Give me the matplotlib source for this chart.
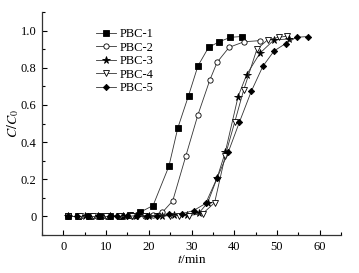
import matplotlib
matplotlib.use('Agg')
import matplotlib.pyplot as plt
from matplotlib.ticker import MultipleLocator

# breakthrough curves, t in min, C/C0
t_pbc1 = [1, 3.5, 6, 8.5, 11, 13.5, 15.5, 18, 21, 24.7, 26.8, 29.3, 31.5, 34, 36.5, 39.1, 41.7]
c_pbc1 = [0, 0, 0, 0, 0, 0.005, 0.01, 0.023, 0.059, 0.27, 0.477, 0.65, 0.81, 0.91, 0.94, 0.964, 0.968]

t_pbc2 = [1, 4, 7, 10, 13, 16, 19, 21, 23.2, 25.6, 28.7, 31.5, 34.3, 36, 38.8, 42.3, 46]
c_pbc2 = [0, 0, 0, 0, 0, 0, 0.005, 0.01, 0.023, 0.084, 0.328, 0.547, 0.735, 0.83, 0.91, 0.94, 0.946]

t_pbc3 = [1, 5, 8, 11, 14, 17, 20, 23, 26, 29, 31.8, 33.8, 36, 37.9, 40.9, 42.9, 46, 49.3, 52.8]
c_pbc3 = [0, 0, 0, 0, 0, 0, 0, 0.005, 0.01, 0.01, 0.02, 0.075, 0.208, 0.346, 0.645, 0.763, 0.878, 0.95, 0.955]

t_pbc4 = [1, 4, 7, 10, 13, 16, 19, 22, 25, 27, 29.3, 32.6, 35.4, 37.9, 40.1, 42.2, 45.3, 47.8, 50.4, 52.4]
c_pbc4 = [0, 0, 0, 0, 0, 0, 0, 0, 0.005, 0.005, 0.005, 0.015, 0.074, 0.328, 0.507, 0.68, 0.90, 0.95, 0.964, 0.97]

t_pbc5 = [1.2, 3.2, 5.7, 8.4, 11, 12.6, 14.8, 17.3, 19.6, 21.9, 24.7, 27.8, 30.5, 33.3, 36, 38.6, 41.2, 44, 46.7, 49.3, 52, 54.6, 57.2]
c_pbc5 = [0, 0, 0, 0, 0, 0, 0, 0.005, 0.005, 0.005, 0.015, 0.015, 0.032, 0.07, 0.208, 0.346, 0.507, 0.674, 0.808, 0.89, 0.93, 0.964, 0.968]

series = [
    ('PBC-1', t_pbc1, c_pbc1, 's', 'black'),
    ('PBC-2', t_pbc2, c_pbc2, 'o', 'white'),
    ('PBC-3', t_pbc3, c_pbc3, '*', 'black'),
    ('PBC-4', t_pbc4, c_pbc4, 'v', 'white'),
    ('PBC-5', t_pbc5, c_pbc5, 'D', 'black'),
]

x_ticks = [0, 10, 20, 30, 40, 50, 60]
y_ticks = [0, 0.2, 0.4, 0.6, 0.8, 1.0]
y_labels = ['0', '0.2', '0.4', '0.6', '0.8', '1.0']

plt.rcParams['font.family'] = ['Liberation Serif', 'DejaVu Serif']
plt.rcParams['mathtext.fontset'] = 'stix'
plt.rcParams['font.size'] = 9

fig = plt.figure(figsize=(3.59, 2.73), dpi=100)
ax = fig.add_axes([0.117, 0.139, 0.833, 0.817])

for name, t, c, mk, fc in series:
    ms = 5.5 if mk == '*' else (3.2 if mk == 'D' else 3.8)
    ax.plot(t, c, marker=mk, markersize=ms, markerfacecolor=fc,
            markeredgecolor='black', markeredgewidth=0.6,
            color='#333333', linewidth=0.6, label=name)

ax.set_xlim(-5, 65)
ax.set_ylim(-0.1, 1.1)
ax.set_xticks(x_ticks)
ax.set_yticks(y_ticks)
ax.set_yticklabels(y_labels)
ax.xaxis.set_minor_locator(MultipleLocator(5))
ax.yaxis.set_minor_locator(MultipleLocator(0.1))
ax.tick_params(which='major', direction='in', length=3.5, width=0.8, pad=4)
ax.tick_params(which='minor', direction='in', length=2, width=0.8)
ax.spines['top'].set_visible(False)
ax.spines['right'].set_visible(False)
for s in ('left', 'bottom'):
    ax.spines[s].set_color('#333333')
    ax.spines[s].set_linewidth(0.9)

ax.set_xlabel('$t$/min', fontsize=9.5, labelpad=1)
ax.set_ylabel('$C/C_0$', fontsize=10, labelpad=0)

ax.legend(loc='upper left', bbox_to_anchor=(0.16, 0.955), frameon=False,
          handlelength=1.6, handletextpad=0.3, labelspacing=0.12,
          borderpad=0, fontsize=9)

fig.savefig('out.png', dpi=100)
